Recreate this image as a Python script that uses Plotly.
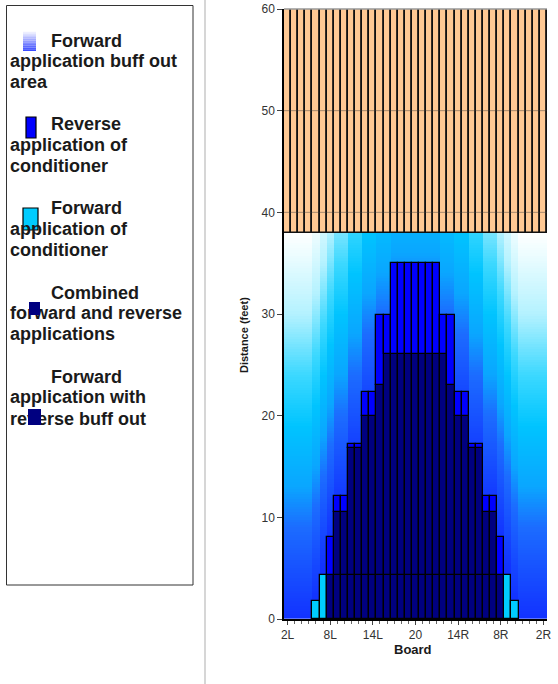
import numpy as np
import plotly.graph_objects as go

# ---------------- data ----------------
boards = list(range(1, 40))                      # board index, 1L ... 20 ... 1R
tick_vals = [2, 8, 14, 20, 26, 32, 38]
tick_text = ["2L", "8L", "14L", "20", "14R", "8R", "2R"]
y_ticks = [0, 10, 20, 30, 40, 50, 60]

pattern_length_ft = 38
lane_length_ft = 60

# forward application buff-out gradient: height (ft) where the colour is cyan, per board
buff_cyan_ft = [19, 19, 19, 19, 19, 21, 24, 27, 30, 30, 34, 34, 38, 38, 40, 40,
                42, 42, 42, 42, 42, 42, 42,
                40, 40, 38, 38, 34, 34, 30, 30, 27, 24, 21, 19, 19, 19, 19, 19]

# forward application of conditioner (cyan)
fwd_boards = [6, 7, 33, 34]
fwd_top = [1.8, 4.3, 4.3, 1.8]

# combined forward and reverse applications (navy, from the foul line)
comb_boards = [8, 9, 10, 11, 12, 13, 14, 15, 16, 17, 18, 19, 20, 21, 22, 23, 24,
               25, 26, 27, 28, 29, 30, 31, 32]
comb_top = [4.3, 4.3, 4.3, 4.3, 4.3, 4.3, 4.3, 4.3, 4.3, 4.3, 4.3, 4.3, 4.3,
            4.3, 4.3, 4.3, 4.3, 4.3, 4.3, 4.3, 4.3, 4.3, 4.3, 4.3, 4.3]

# forward application with reverse buff out (navy)
rbo_boards = [9, 10, 11, 12, 13, 14, 15, 16, 17, 18, 19, 20, 21, 22, 23, 24,
              25, 26, 27, 28, 29, 30, 31]
rbo_top = [10.5, 10.5, 16.8, 16.8, 20.0, 20.0, 23.0, 26.1, 26.1, 26.1, 26.1,
           26.1, 26.1, 26.1, 26.1, 26.1, 23.0, 20.0, 20.0, 16.8, 16.8, 10.5, 10.5]

# reverse application of conditioner (blue)
rev_boards = [8, 9, 10, 11, 12, 13, 14, 15, 16, 17, 18, 19, 20, 21, 22, 23, 24,
              25, 26, 27, 28, 29, 30, 31, 32]
rev_top = [8.1, 12.1, 12.1, 17.2, 17.2, 22.3, 22.3, 29.9, 29.9, 35.0, 35.0,
           35.0, 35.0, 35.0, 35.0, 35.0, 29.9, 29.9, 22.3, 22.3, 17.2, 17.2,
           12.1, 12.1, 8.1]

# ---------------- colours ----------------
C_ORANGE = "#FFC994"
C_BLUE = "#0000FF"
C_CYAN = "#00CCFF"
C_NAVY = "#000080"

# ---------------- geometry helpers (screen pixels) ----------------
W, H = 558, 684
X0, X1, Y0, Y1 = 284, 547, 9, 619          # plot area on screen
L_M, R_M, T_M, B_M = X0, W - X1, Y0, H - Y1
PW = X1 - X0
PH = Y1 - Y0


def px(x):
    return (x - X0) / PW


def py(y):
    return (Y1 - y) / PH


fig = go.Figure()

# gradient background (forward application buff out area)
yy = np.arange(0.125, pattern_length_ft, 0.25)
zz = np.array([[y - c for c in buff_cyan_ft] for y in yy])
zmin, zmax = -45.0, 19.0
stops = [(-45, "#0810ff"), (-26, "#0a1cff"), (-19, "#1232ff"), (-10, "#1c6cff"),
         (-6, "#0aa6ff"), (0, "#00c4ff"), (5, "#3cd8ff"), (11, "#b4f2ff"),
         (17, "#eefdff"), (19, "#ffffff")]
cscale = [[(v - zmin) / (zmax - zmin), c] for v, c in stops]
fig.add_trace(go.Heatmap(x=boards, y=yy, z=zz, zmin=zmin, zmax=zmax,
                         colorscale=cscale, showscale=False, hoverinfo="skip"))

line = dict(color="black", width=1.3)

# lane beyond pattern (orange)
fig.add_trace(go.Bar(x=boards, y=[lane_length_ft - pattern_length_ft for _ in boards],
                     base=pattern_length_ft, width=1,
                     marker=dict(color=C_ORANGE, line=dict(color="#111", width=1.6)),
                     showlegend=False, hoverinfo="skip"))

# forward application (cyan)
fig.add_trace(go.Bar(x=fwd_boards, y=fwd_top, base=0, width=1,
                     marker=dict(color=C_CYAN, line=line), showlegend=False))

# combined
fig.add_trace(go.Bar(x=comb_boards, y=comb_top, base=0, width=1,
                     marker=dict(color=C_NAVY, line=line), showlegend=False))

# forward with reverse buff out
comb_map = dict(zip(comb_boards, comb_top))
rbo_base = [comb_map[b] for b in rbo_boards]
fig.add_trace(go.Bar(x=rbo_boards, y=[t - b for t, b in zip(rbo_top, rbo_base)],
                     base=rbo_base, width=1, marker=dict(color=C_NAVY, line=line),
                     showlegend=False))

# reverse application
rbo_map = dict(zip(rbo_boards, rbo_top))
rev_base = [rbo_map.get(b, comb_map[b]) for b in rev_boards]
fig.add_trace(go.Bar(x=rev_boards, y=[t - b for t, b in zip(rev_top, rev_base)],
                     base=rev_base, width=1, marker=dict(color=C_BLUE, line=line),
                     showlegend=False))

shapes = []
# grid lines visible over the orange area
for v in y_ticks:
    if pattern_length_ft < v < lane_length_ft:
        shapes.append(dict(type="line", xref="paper", yref="y", x0=0, x1=1, y0=v, y1=v,
                           line=dict(color="rgba(60,60,60,0.45)", width=1), layer="above"))
# top border
shapes.append(dict(type="line", xref="paper", yref="paper", x0=0, x1=1, y0=1, y1=1,
                   line=dict(color="#999", width=1.5), layer="above"))

# separator line
shapes.append(dict(type="line", xref="paper", yref="paper", x0=px(205), x1=px(205),
                   y0=py(-2), y1=py(H + 2), line=dict(color="#c8c8c8", width=1.5)))
# legend box
shapes.append(dict(type="rect", xref="paper", yref="paper", x0=px(6.5), x1=px(193),
                   y0=py(5.5), y1=py(585), line=dict(color="#333", width=1), fillcolor="white"))

# legend symbol 1: gradient
n = 12
g_top, g_bot = 30, 51
for i in range(n):
    t = i / (n - 1)
    r = int(255 + (60 - 255) * t)
    g = int(255 + (76 - 255) * t)
    shapes.append(dict(type="rect", xref="paper", yref="paper", x0=px(23), x1=px(36),
                       y0=py(g_top + (g_bot - g_top) * (i + 1) / n),
                       y1=py(g_top + (g_bot - g_top) * i / n),
                       line=dict(width=0), fillcolor=f"rgb({r},{g},255)"))
# legend symbol 2: reverse (blue)
shapes.append(dict(type="rect", xref="paper", yref="paper", x0=px(26), x1=px(36),
                   y0=py(138), y1=py(117), line=dict(color="black", width=1.2),
                   fillcolor=C_BLUE))
# legend symbol 3: forward (cyan)
shapes.append(dict(type="rect", xref="paper", yref="paper", x0=px(23), x1=px(38),
                   y0=py(230), y1=py(208), line=dict(color="black", width=1.2),
                   fillcolor=C_CYAN))

annotations = []
LF = dict(family="Liberation Sans, Arial, sans-serif", size=18, color="#1a1a1a")
legend_lines = [
    ("Forward", ["application buff out", "area"], [47, 67, 88]),
    ("Reverse", ["application of", "conditioner"], [130, 151, 172]),
    ("Forward", ["application of", "conditioner"], [214, 235, 256]),
    ("Combined", ["forward and reverse", "applications"], [299, 319, 340]),
    ("Forward", ["application with", "reverse buff out"], [383, 403, 425]),
]
for first, rest, bls in legend_lines:
    annotations.append(dict(text=f"<b>{first}</b>", x=px(50), y=py(bls[0] - 6),
                            xref="paper", yref="paper", xanchor="left", yanchor="middle",
                            showarrow=False, font=LF, borderpad=0))
    for txt, bl in zip(rest, bls[1:]):
        annotations.append(dict(text=f"<b>{txt}</b>", x=px(9), y=py(bl - 6),
                                xref="paper", yref="paper", xanchor="left", yanchor="middle",
                                showarrow=False, font=LF, borderpad=0))

# legend symbols 4 and 5 drawn over the text
for (x0, x1, y0, y1) in [(29, 40, 302, 315), (28, 41, 409, 425)]:
    annotations.append(dict(text=" ", x=px(x0), y=py(y0), xref="paper", yref="paper",
                            xanchor="left", yanchor="top", showarrow=False,
                            width=x1 - x0, height=y1 - y0, bgcolor=C_NAVY, borderpad=0,
                            borderwidth=0, font=dict(size=1)))

# axis titles
annotations.append(dict(text="<b>Distance (feet)</b>", x=px(236), y=py(335), xref="paper",
                        yref="paper", textangle=-90, showarrow=False,
                        font=dict(family="Liberation Sans, Arial", size=11, color="#1a1a1a")))
annotations.append(dict(text="<b>Board</b>", x=px(413), y=py(659), xref="paper",
                        yref="paper", showarrow=False,
                        font=dict(family="Liberation Sans, Arial", size=13, color="#1a1a1a")))

fig.update_layout(
    width=W, height=H,
    margin=dict(l=L_M, r=R_M, t=T_M, b=B_M, pad=0, autoexpand=False),
    paper_bgcolor="white", plot_bgcolor="white",
    barmode="overlay", bargap=0,
    showlegend=False,
    shapes=shapes, annotations=annotations,
    font=dict(family="Liberation Sans, Arial, sans-serif", size=12, color="#333"),
    xaxis=dict(range=[1.5, 38.5], tickvals=tick_vals, ticktext=tick_text,
               ticks="outside", ticklen=4, tickcolor="#444", showgrid=False,
               showline=True, linecolor="black", linewidth=1.5, zeroline=False,
               automargin=False,
               minor=dict(tickvals=boards, ticks="outside", ticklen=3, tickcolor="#666"),
               tickfont=dict(size=12, color="#333")),
    yaxis=dict(range=[0, lane_length_ft], tickvals=y_ticks, ticks="outside", ticklen=5,
               tickcolor="#444", showgrid=False, showline=True, linecolor="black",
               linewidth=1.5, zeroline=False, automargin=False,
               tickfont=dict(size=12, color="#333")),
)

fig.write_html("out.html", config={"displayModeBar": False},
               post_script="document.body.style.margin='0';document.body.style.overflow='hidden';")
